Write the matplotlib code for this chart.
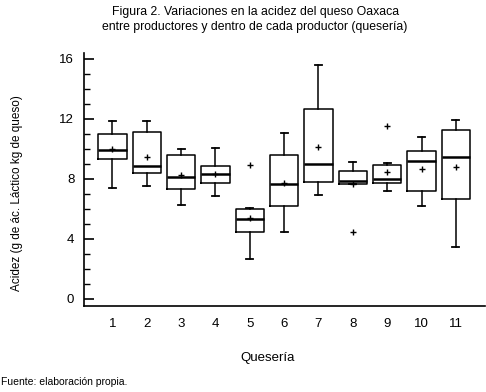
import matplotlib.pyplot as plt

plt.rcParams['font.family'] = ['Liberation Sans Narrow', 'Liberation Sans', 'DejaVu Sans']

# values (g de ác. láctico / kg de queso)
queserias = [1, 2, 3, 4, 5, 6, 7, 8, 9, 10, 11]
whis_lo = [7.41, 7.50, 6.26, 6.88, 2.66, 4.44, 6.94, 7.62, 7.19, 6.21, 3.46]
q1 = [9.34, 8.39, 7.32, 7.72, 4.44, 6.21, 7.79, 7.66, 7.72, 7.19, 6.68]
medians = [9.94, 8.87, 8.12, 8.30, 5.33, 7.66, 9.01, 7.83, 8.01, 9.21, 9.43]
q3 = [10.98, 11.14, 9.59, 8.85, 5.99, 9.59, 12.65, 8.50, 8.92, 9.85, 11.25]
whis_hi = [11.87, 11.87, 10.00, 10.05, 6.05, 11.05, 15.58, 9.12, 9.05, 10.78, 11.92]
means = [9.97, 9.47, 8.26, 8.30, 5.36, 7.72, 10.14, 7.66, 8.48, 8.66, 8.76]
outliers = [[], [], [], [], [8.92], [], [], [4.41], [11.52], [], []]

stats = []
for i in range(len(queserias)):
    stats.append({
        "whislo": whis_lo[i], "q1": q1[i], "med": medians[i], "q3": q3[i],
        "whishi": whis_hi[i], "mean": means[i], "fliers": outliers[i],
    })

fig = plt.figure(figsize=(4.86, 3.92), dpi=100)
ax = fig.add_axes([0.1728, 0.2194, 0.8252, 0.6462])

ax.bxp(stats, positions=queserias, widths=0.82, showmeans=True,
       boxprops=dict(color='black', linewidth=1.1),
       medianprops=dict(color='black', linewidth=1.8),
       whiskerprops=dict(color='black', linewidth=1.1),
       capprops=dict(color='black', linewidth=1.3),
       capwidths=0.2,
       meanprops=dict(marker='+', markeredgecolor='black', markersize=4, markeredgewidth=1),
       flierprops=dict(marker='+', markeredgecolor='black', markersize=4, markeredgewidth=1))

ax.set_xlim(0.17, 11.85)
ax.set_ylim(-0.5, 16.42)
ax.set_yticks([0, 4, 8, 12, 16])
ax.set_yticks(range(0, 17), minor=True)
ax.set_xticks(queserias)
ax.set_xticklabels([str(q) for q in queserias])
ax.tick_params(axis='y', which='major', direction='in', length=7, width=1.2, labelsize=9.5, pad=7)
ax.tick_params(axis='y', which='minor', direction='in', length=4, width=1)
ax.tick_params(axis='x', length=0, labelsize=9.5, pad=9)
ax.spines['top'].set_visible(False)
ax.spines['right'].set_visible(False)
ax.spines['left'].set_linewidth(1.2)
ax.spines['bottom'].set_linewidth(1.2)

ax.set_xlabel("Quesería", fontsize=9.5)
ax.xaxis.set_label_coords(0.459, -0.18)
ax.set_ylabel("Acidez (g de ác. Láctico kg de queso)", fontsize=8.5)
ax.yaxis.set_label_coords(-0.152, 0.445)

fig.text(0.525, 0.985, "Figura 2. Variaciones en la acidez del queso Oaxaca\nentre productores y dentro de cada productor (quesería)",
         ha='center', va='top', fontsize=8.8, linespacing=1.4)
fig.text(0.002, 0.025, "Fuente: elaboración propia.", ha='left', va='center', fontsize=7.5)

fig.savefig("out.png", dpi=100)
